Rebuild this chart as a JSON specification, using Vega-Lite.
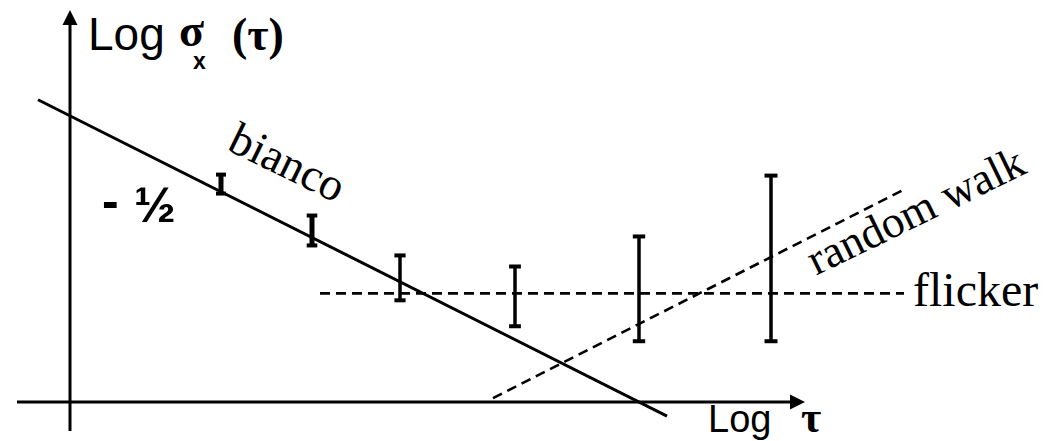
{
  "$schema": "https://vega.github.io/schema/vega-lite/v6.json",
  "width": 1053,
  "height": 441,
  "autosize": {"type": "fit", "contains": "padding"},
  "padding": 0,
  "background": "white",
  "config": {"view": {"stroke": null}},
  "datasets": {
    "segments": [
      {"name": "x axis", "t": -0.53, "s": 0, "t2": 7.25, "s2": 0},
      {"name": "y axis", "t": 0, "s": -0.29, "t2": 0, "s2": 3.80},
      {"name": "bianco", "t": -0.32, "s": 3.03, "t2": 5.97, "s2": -0.14},
      {"name": "flicker", "t": 2.50, "s": 1.09, "t2": 8.34, "s2": 1.09},
      {"name": "random walk", "t": 4.23, "s": 0.04, "t2": 8.32, "s2": 2.12}
    ],
    "arrows": [
      {"axis": "y", "t": 0, "s": 3.855},
      {"axis": "x", "t": 7.275, "s": 0}
    ],
    "errbars": [
      {"n": 1, "t": 1.51, "lo": 2.09, "hi": 2.28},
      {"n": 2, "t": 2.42, "lo": 1.57, "hi": 1.87},
      {"n": 3, "t": 3.30, "lo": 1.02, "hi": 1.47},
      {"n": 4, "t": 4.45, "lo": 0.76, "hi": 1.36},
      {"n": 5, "t": 5.69, "lo": 0.61, "hi": 1.66},
      {"n": 6, "t": 7.01, "lo": 0.61, "hi": 2.27}
    ],
    "labels": [
      {"key": "ylog", "text": "Log", "t": 0.18, "s": 3.53},
      {"key": "sigma", "text": "σ", "t": 1.09, "s": 3.57},
      {"key": "sub", "text": "x", "t": 1.23, "s": 3.34},
      {"key": "tau", "text": "(τ)", "t": 1.62, "s": 3.53},
      {"key": "xlog", "text": "Log", "t": 6.38, "s": -0.30},
      {"key": "xtau", "text": "τ", "t": 7.31, "s": -0.30},
      {"key": "half", "text": "-", "t": 0.32, "s": 1.85},
      {"key": "half", "text": "½", "t": 0.64, "s": 1.80},
      {"key": "bianco", "text": "bianco", "t": 2.17, "s": 2.39},
      {"key": "rw", "text": "random walk", "t": 8.46, "s": 1.91},
      {"key": "flicker", "text": "flicker", "t": 8.43, "s": 0.96}
    ]
  },
  "encoding": {
    "x": {"field": "t", "type": "quantitative", "scale": {"domain": [-0.70, 9.83], "nice": false, "zero": false}, "axis": null},
    "y": {"field": "s", "type": "quantitative", "scale": {"domain": [-0.38, 4.03], "nice": false, "zero": false}, "axis": null}
  },
  "layer": [
    {
      "data": {"name": "segments"},
      "transform": [{"filter": "datum.name == 'x axis' || datum.name == 'y axis' || datum.name == 'bianco'"}],
      "mark": {"type": "rule", "color": "black", "strokeWidth": 3},
      "encoding": {"x2": {"field": "t2"}, "y2": {"field": "s2"}}
    },
    {
      "data": {"name": "segments"},
      "transform": [{"filter": "datum.name == 'flicker' || datum.name == 'random walk'"}],
      "mark": {"type": "rule", "color": "black", "strokeWidth": 2.6, "strokeDash": [10, 6]},
      "encoding": {"x2": {"field": "t2"}, "y2": {"field": "s2"}}
    },
    {
      "data": {"name": "arrows"},
      "transform": [{"filter": "datum.axis == 'y'"}],
      "mark": {"type": "point", "shape": "M0,-1L1,1L-1,1Z", "size": 225, "filled": true, "color": "black", "opacity": 1, "strokeWidth": 0}
    },
    {
      "data": {"name": "arrows"},
      "transform": [{"filter": "datum.axis == 'x'"}],
      "mark": {"type": "point", "shape": "M-1,-1L1,0L-1,1Z", "size": 225, "filled": true, "color": "black", "opacity": 1, "strokeWidth": 0}
    },
    {
      "data": {"name": "errbars"},
      "transform": [{"filter": "datum.n <= 2"}],
      "mark": {"type": "rule", "color": "black", "strokeWidth": 5},
      "encoding": {
        "y": {"field": "lo", "type": "quantitative", "axis": null},
        "y2": {"field": "hi"}
      }
    },
    {
      "data": {"name": "errbars"},
      "transform": [{"filter": "datum.n > 2"}],
      "mark": {"type": "rule", "color": "black", "strokeWidth": 3.5},
      "encoding": {
        "y": {"field": "lo", "type": "quantitative", "axis": null},
        "y2": {"field": "hi"}
      }
    },
    {
      "data": {"name": "errbars"},
      "transform": [{"fold": ["lo", "hi"], "as": ["end", "v"]}],
      "mark": {"type": "tick", "orient": "horizontal", "color": "black", "opacity": 1, "thickness": 4},
      "encoding": {
        "y": {"field": "v", "type": "quantitative", "axis": null},
        "size": {"field": "n", "type": "ordinal", "scale": {"domain": [1, 2, 3, 4, 5, 6], "range": [10, 13, 15, 28, 28, 42]}, "legend": null}
      }
    },
    {
      "data": {"name": "labels"},
      "transform": [{"filter": "datum.key == 'ylog'"}],
      "mark": {"type": "text", "font": "Liberation Sans", "fontSize": 46, "align": "left", "baseline": "alphabetic", "color": "black"},
      "encoding": {"text": {"field": "text"}}
    },
    {
      "data": {"name": "labels"},
      "transform": [{"filter": "datum.key == 'sigma'"}],
      "mark": {"type": "text", "font": "Liberation Serif", "fontWeight": "bold", "fontSize": 46, "align": "left", "baseline": "alphabetic", "color": "black"},
      "encoding": {"text": {"field": "text"}}
    },
    {
      "data": {"name": "labels"},
      "transform": [{"filter": "datum.key == 'xtau'"}],
      "mark": {"type": "text", "font": "Liberation Serif", "fontWeight": "bold", "fontSize": 44, "align": "left", "baseline": "alphabetic", "color": "black"},
      "encoding": {"text": {"field": "text"}}
    },
    {
      "data": {"name": "labels"},
      "transform": [{"filter": "datum.key == 'sub'"}],
      "mark": {"type": "text", "font": "Liberation Sans", "fontWeight": "bold", "fontSize": 23, "align": "left", "baseline": "alphabetic", "color": "black"},
      "encoding": {"text": {"field": "text"}}
    },
    {
      "data": {"name": "labels"},
      "transform": [{"filter": "datum.key == 'tau'"}],
      "mark": {"type": "text", "font": "Liberation Serif", "fontWeight": "bold", "fontSize": 46, "align": "left", "baseline": "alphabetic", "color": "black"},
      "encoding": {"text": {"field": "text"}}
    },
    {
      "data": {"name": "labels"},
      "transform": [{"filter": "datum.key == 'xlog'"}],
      "mark": {"type": "text", "font": "Liberation Sans", "fontSize": 38, "align": "left", "baseline": "alphabetic", "color": "black"},
      "encoding": {"text": {"field": "text"}}
    },
    {
      "data": {"name": "labels"},
      "transform": [{"filter": "datum.key == 'half'"}],
      "mark": {"type": "text", "font": "Liberation Sans", "fontWeight": "bold", "fontSize": 50, "align": "left", "baseline": "alphabetic", "color": "black"},
      "encoding": {"text": {"field": "text"}}
    },
    {
      "data": {"name": "labels"},
      "transform": [{"filter": "datum.key == 'bianco'"}],
      "mark": {"type": "text", "font": "Liberation Serif", "fontSize": 46, "angle": 26, "align": "center", "baseline": "middle", "color": "black"},
      "encoding": {"text": {"field": "text"}}
    },
    {
      "data": {"name": "labels"},
      "transform": [{"filter": "datum.key == 'rw'"}],
      "mark": {"type": "text", "font": "Liberation Serif", "fontSize": 45, "angle": 334, "align": "center", "baseline": "middle", "color": "black"},
      "encoding": {"text": {"field": "text"}}
    },
    {
      "data": {"name": "labels"},
      "transform": [{"filter": "datum.key == 'flicker'"}],
      "mark": {"type": "text", "font": "Liberation Serif", "fontSize": 48, "align": "left", "baseline": "alphabetic", "color": "black"},
      "encoding": {"text": {"field": "text"}}
    }
  ]
}
